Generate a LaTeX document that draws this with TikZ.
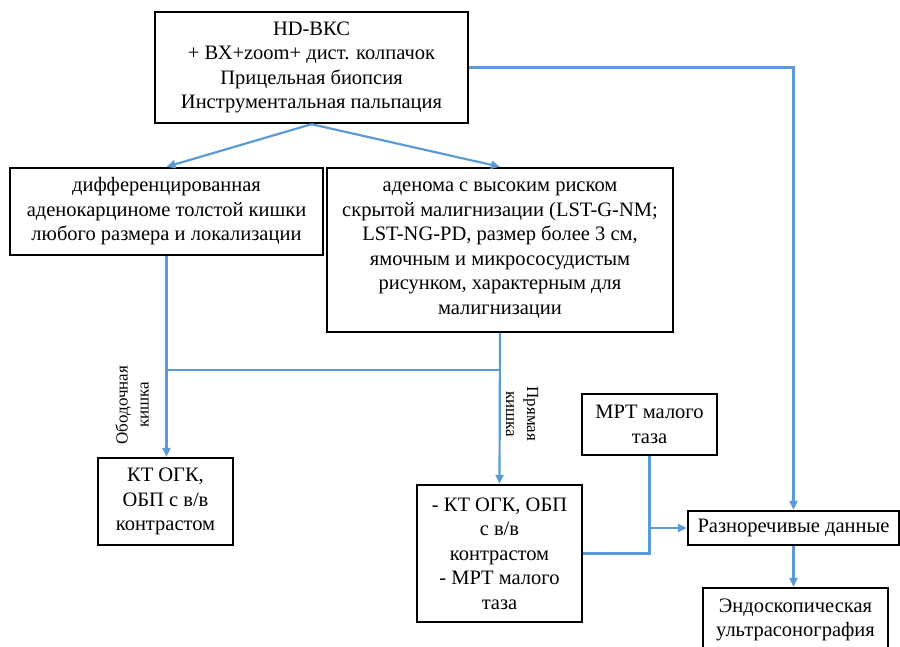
\documentclass[tikz,border=0pt]{standalone}
\usepackage{fontspec}
\setmainfont{Liberation Serif}
\usetikzlibrary{arrows.meta}
\definecolor{linkblue}{RGB}{91,155,213}
\begin{document}
\begin{tikzpicture}[x=1pt, y=-1pt, every node/.style={font=\fontsize{20.5}{24.5}\selectfont}]
  \tikzstyle{box}=[draw,line width=2.4pt,align=center,inner sep=0pt]
  \tikzstyle{link}=[linkblue,line width=2.2pt]
  \tikzstyle{arrow}=[link,-{Triangle[length=9pt,width=8pt]}]
  \tikzstyle{side}=[align=center,font=\fontsize{17}{21}\selectfont]
  \clip (0,0) rectangle (900,647);
  \node[box,minimum width=313pt,minimum height=111pt] (top) at (311.5,67.5) {HD-ВКС\\+ ВХ+zoom+ дист. колпачок\\Прицельная биопсия\\Инструментальная пальпация};
  \node[box,minimum width=313pt,minimum height=87pt] (left) at (166.5,211.5) {дифференцированная\\аденокарциноме толстой кишки\\любого размера и локализации};
  \node[box,minimum width=346pt,minimum height=164pt] (mid) at (500,250) {аденома с высоким риском\\скрытой малигнизации (LST-G-NM;\\LST-NG-PD, размер более 3 см,\\ямочным и микрососудистым\\рисунком, характерным для\\малигнизации};
  \node[box,minimum width=135pt,minimum height=87pt] (kt) at (165.5,501.5) {КТ ОГК,\\ОБП с в/в\\контрастом};
  \node[box,minimum width=165pt,minimum height=137pt] (ktmrt) at (499.5,553.5) {- КТ ОГК, ОБП\\с в/в\\контрастом\\- МРТ малого\\таза};
  \node[box,minimum width=135pt,minimum height=61pt] (mrt) at (649.5,424.5) {МРТ малого\\таза};
  \node[box,minimum width=211pt,minimum height=34pt] (razn) at (793.5,528) {Разноречивые данные};
  \node[box,minimum width=185pt,minimum height=64pt] (endo) at (795.5,620) {Эндоскопическая\\ультрасонография};
  \node[side,rotate=90] (colon) at (132,405) {Ободочная\\кишка};
  \node[side,rotate=-90] (rectum) at (522,414) {Прямая\\кишка};
  \coordinate (cross) at (0,370);
  \draw[arrow] (top.south) -- (left.north);
  \draw[arrow] (top.south) -- (mid.north);
  \draw[arrow] (top.east) -| (razn.north);
  \draw[arrow] (left.south) -- (left.south |- kt.north);
  \draw[link] (left.south |- cross) -- (mid.south |- cross);
  \draw[arrow] (mid.south) -- (ktmrt.north);
  \draw[link] (ktmrt.east) -| (mrt.south);
  \draw[arrow] (mrt.south |- razn.west) -- (razn.west);
  \draw[arrow] (razn.south) -- (razn.south |- endo.north);
\end{tikzpicture}
\end{document}
